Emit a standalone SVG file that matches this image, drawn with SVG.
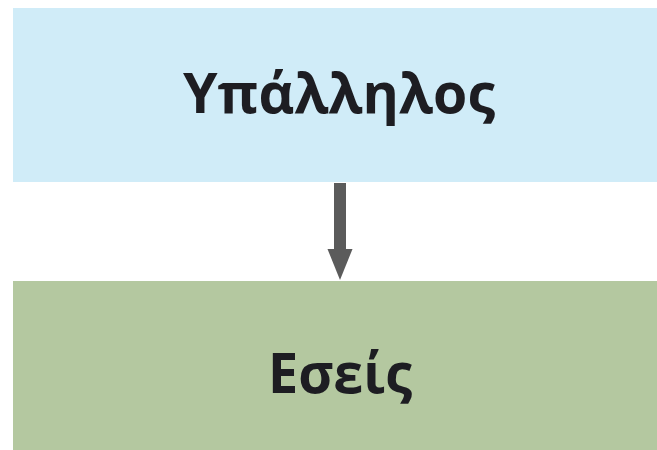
<svg xmlns="http://www.w3.org/2000/svg" width="657" height="450" viewBox="0 0 657 450">
<style>
.lbl{font-family:"Open Sans","Liberation Sans",sans-serif;font-weight:700;font-size:56px;fill:#1d1d22;}
</style>
<defs>
<marker id="ah" markerWidth="25" markerHeight="31" refX="12.5" refY="31" orient="auto-start-reverse" markerUnits="userSpaceOnUse" viewBox="0 0 25 31">
<path d="M0,0 L25,0 L12.5,31 Z" fill="#5b5b5b"/>
</marker>
</defs>
<rect width="657" height="450" fill="#ffffff"/>
<g id="node-employee">
<rect x="13" y="8" width="644" height="174" fill="#d0ecf8"/>
<text class="lbl" x="339" y="113" text-anchor="middle" textLength="312" lengthAdjust="spacingAndGlyphs">Υπάλληλος</text>
</g>
<g id="node-you">
<rect x="13" y="281" width="644" height="169" fill="#b4c8a0"/>
<text class="lbl" x="340" y="393" text-anchor="middle" textLength="144" lengthAdjust="spacingAndGlyphs">Εσείς</text>
</g>
<g id="connectors">
<line x1="340" y1="183" x2="340" y2="250" stroke="#5b5b5b" stroke-width="12"/>
<path d="M327.5,249 L352.5,249 L340,280 Z" fill="#5b5b5b"/>
</g>
</svg>
